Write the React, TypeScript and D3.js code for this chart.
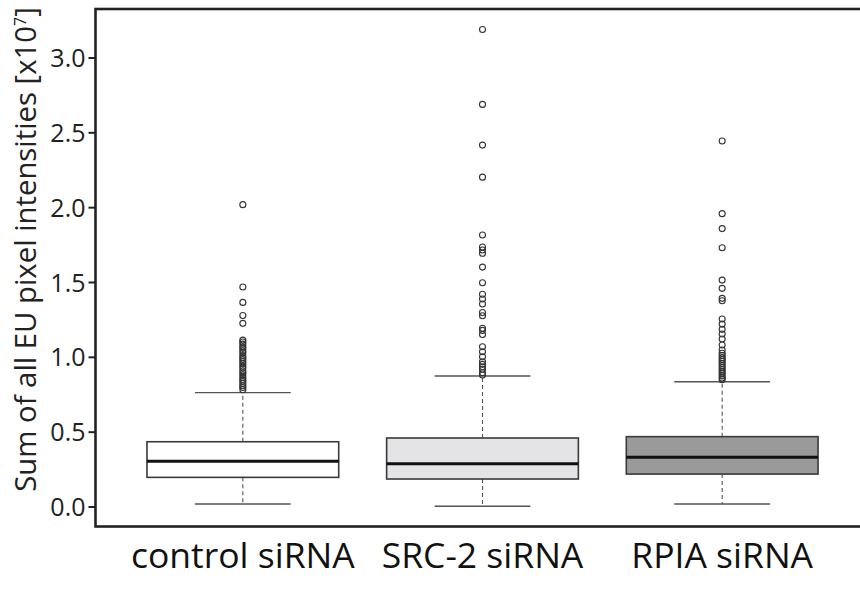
import React, { useEffect, useRef } from 'react';
import * as d3 from 'd3';

const categories = ['control siRNA', 'SRC-2 siRNA', 'RPIA siRNA'];
const lowerWhisker = [0.02, 0.005, 0.02];
const q1 = [0.198, 0.187, 0.22];
const medians = [0.305, 0.289, 0.332];
const q3 = [0.436, 0.461, 0.47];
const upperWhisker = [0.764, 0.875, 0.837];

const controlOutliers = [
  2.02, 1.47, 1.367, 1.28, 1.227, 1.115, 1.102, 1.088, 1.071, 1.06, 1.043, 1.03,
  1.012, 0.998, 0.985, 0.97, 0.957, 0.94, 0.928, 0.91, 0.897, 0.883, 0.866, 0.852,
  0.84, 0.826, 0.81, 0.798, 0.783,
];
const srcOutliers = [
  3.19, 2.69, 2.418, 2.204, 1.817, 1.737, 1.717, 1.695, 1.603, 1.498, 1.421, 1.39,
  1.356, 1.3, 1.278, 1.194, 1.18, 1.153, 1.071, 1.037, 1.004, 0.97, 0.953, 0.937,
  0.92, 0.897, 0.882,
];
const rpiaOutliers = [
  2.445, 1.96, 1.86, 1.732, 1.516, 1.461, 1.394, 1.378, 1.256, 1.222, 1.187, 1.156,
  1.122, 1.082, 1.049, 1.027, 1.012, 0.998, 0.985, 0.972, 0.958, 0.944, 0.93, 0.917,
  0.903, 0.89, 0.876, 0.862, 0.85,
];
const outliers = [controlOutliers, srcOutliers, rpiaOutliers];

const boxFills = ['#ffffff', '#e4e3e5', '#9a9a9a'];
const yTicks = [0, 0.5, 1.0, 1.5, 2.0, 2.5, 3.0];

const W = 860;
const H = 590;
const FONT = '"Open Sans", "Noto Sans", sans-serif';

const BoxPlot = () => {
  const ref = useRef<SVGSVGElement | null>(null);

  useEffect(() => {
    const svg = d3.select(ref.current);
    svg.selectAll('*').remove();

    const frame = { left: 95.5, top: 9, right: 864, bottom: 526.5 };

    const y = d3.scaleLinear().domain([0, 3]).range([507, 58]);
    const x = d3.scaleBand<string>()
      .domain(categories)
      .range([123, 842])
      .paddingInner(0.2)
      .paddingOuter(0.1);
    const bw = x.bandwidth();
    const cx = (c: string) => (x(c) as number) + bw / 2;

    const g = svg.append('g');

    categories.forEach((c, i) => {
      const xc = cx(c);
      const grp = g.append('g');
      // whiskers (dashed)
      grp.append('line')
        .attr('x1', xc).attr('x2', xc)
        .attr('y1', y(q3[i])).attr('y2', y(upperWhisker[i]))
        .attr('stroke', '#555').attr('stroke-width', 1.1)
        .attr('stroke-dasharray', '4,3');
      grp.append('line')
        .attr('x1', xc).attr('x2', xc)
        .attr('y1', y(q1[i])).attr('y2', y(lowerWhisker[i]))
        .attr('stroke', '#555').attr('stroke-width', 1.1)
        .attr('stroke-dasharray', '4,3');
      // caps
      [upperWhisker[i], lowerWhisker[i]].forEach(v => {
        grp.append('line')
          .attr('x1', xc - bw / 4).attr('x2', xc + bw / 4)
          .attr('y1', y(v)).attr('y2', y(v))
          .attr('stroke', '#555').attr('stroke-width', 1.4);
      });
      // box
      grp.append('rect')
        .attr('x', x(c) as number)
        .attr('y', y(q3[i]))
        .attr('width', bw)
        .attr('height', y(q1[i]) - y(q3[i]))
        .attr('fill', boxFills[i])
        .attr('stroke', '#3a3a3a')
        .attr('stroke-width', 1.6);
      // median
      grp.append('line')
        .attr('x1', x(c) as number).attr('x2', (x(c) as number) + bw)
        .attr('y1', y(medians[i])).attr('y2', y(medians[i]))
        .attr('stroke', '#111').attr('stroke-width', 3);
      // outliers
      grp.selectAll('circle.out')
        .data(outliers[i])
        .enter()
        .append('circle')
        .attr('class', 'out')
        .attr('cx', xc)
        .attr('cy', d => y(d))
        .attr('r', 3)
        .attr('fill', 'none')
        .attr('stroke', '#333')
        .attr('stroke-width', 1.1);
    });

    // frame
    svg.append('rect')
      .attr('x', frame.left).attr('y', frame.top)
      .attr('width', frame.right - frame.left)
      .attr('height', frame.bottom - frame.top)
      .attr('fill', 'none')
      .attr('stroke', '#222')
      .attr('stroke-width', 2.6);

    // y axis ticks
    const yAxis = svg.append('g');
    yTicks.forEach(t => {
      yAxis.append('line')
        .attr('x1', frame.left - 7).attr('x2', frame.left)
        .attr('y1', y(t)).attr('y2', y(t))
        .attr('stroke', '#222').attr('stroke-width', 2);
      yAxis.append('text')
        .attr('x', frame.left - 10)
        .attr('y', y(t))
        .attr('dy', '0.36em')
        .attr('text-anchor', 'end')
        .style('font-family', FONT)
        .style('font-size', '25px')
        .attr('fill', '#222')
        .text(d3.format('.1f')(t));
    });

    // y title
    const title = svg.append('text')
      .attr('transform', `translate(36,${249.5}) rotate(-90)`)
      .attr('text-anchor', 'middle')
      .style('font-family', FONT)
      .style('font-size', '29.3px')
      .attr('fill', '#222');
    title.append('tspan').text('Sum of all EU pixel intensities [x10');
    title.append('tspan').attr('dy', -10).style('font-size', '16px').text('7');
    title.append('tspan').attr('dy', 10).text(']');

    // x labels
    categories.forEach(c => {
      svg.append('text')
        .attr('x', cx(c))
        .attr('y', 568)
        .attr('text-anchor', 'middle')
        .style('font-family', FONT)
        .style('font-size', '35.5px')
        .attr('fill', '#111')
        .text(c);
    });
  }, []);

  return <svg ref={ref} width={W} height={H} style={{ position: 'absolute', left: 0, top: 0, background: '#fff' }} />;
};

export default function App() {
  return <BoxPlot />;
}
